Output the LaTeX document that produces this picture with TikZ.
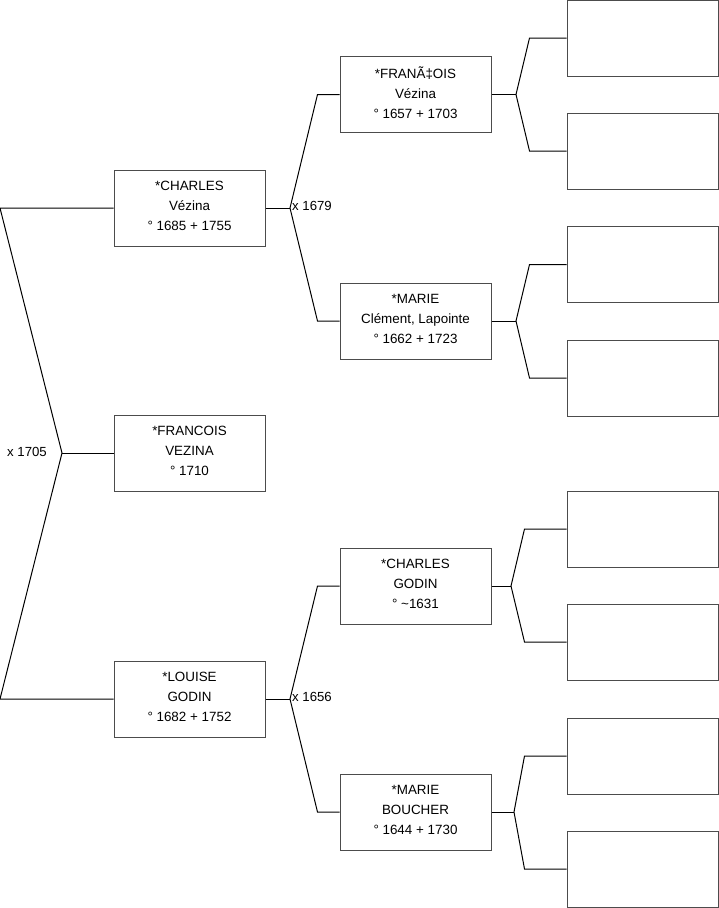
\documentclass[tikz,border=0pt]{standalone}
\usepackage{fontspec}
\setmainfont{Liberation Sans}
\begin{document}
\begin{tikzpicture}[x=1pt,y=-1pt,
  person/.style={draw=black!70, line width=1pt, minimum width=151pt, minimum height=76pt,
    inner sep=0pt, align=center, font=\fontsize{13.4}{20}\selectfont,
    execute at end node={\rule[-4pt]{0pt}{4pt}}},
  conn/.style={draw=black, line width=1pt},
  lbl/.style={font=\fontsize{13.2}{14}\selectfont, inner sep=0pt}]
\useasboundingbox (0,0) rectangle (719,908);
% generation 1
\node[person] (c1) at (189.5,208) {*CHARLES\\Vézina\\° 1685 + 1755};
\node[person] (c2) at (189.5,453) {*FRANCOIS\\VEZINA\\° 1710};
\node[person] (c3) at (189.5,699) {*LOUISE\\GODIN\\° 1682 + 1752};
% generation 2
\node[person] (p1) at (415.5,94.5) {*FRANÃ‡OIS\\Vézina\\° 1657 + 1703};
\node[person] (p2) at (415.5,321) {*MARIE\\Clément, Lapointe\\° 1662 + 1723};
\node[person] (p3) at (415.5,586) {*CHARLES\\GODIN\\° \textasciitilde1631};
\node[person] (p4) at (415.5,812) {*MARIE\\BOUCHER\\° 1644 + 1730};
% generation 3
\node[person] (g1) at (642.5,38) {};
\node[person] (g2) at (642.5,151) {};
\node[person] (g3) at (642.5,264.5) {};
\node[person] (g4) at (642.5,378) {};
\node[person] (g5) at (642.5,529) {};
\node[person] (g6) at (642.5,642) {};
\node[person] (g7) at (642.5,756) {};
\node[person] (g8) at (642.5,869) {};
% root bracket
\coordinate (r0) at (0,208);
\coordinate (m1) at (62,453);
\coordinate (r1) at (0,699);
\draw[conn] (c1.west) -- (r0) -- (m1) -- (r1) -- (c3.west);
\draw[conn] (m1) -- (c2.west);
\node[lbl, anchor=east] (l1) at (47,452) {x 1705};
% charles -> parents
\coordinate (j1) at (290,208);
\draw[conn] (c1.east) -- (j1);
\draw[conn] (p1.west) -- ++(-22,0) -- (j1) -- ([xshift=-22pt]p2.west) -- (p2.west);
\node[lbl, anchor=west] (l2) at (292,206) {x 1679};
% louise -> parents
\coordinate (j2) at (290,699);
\draw[conn] (c3.east) -- (j2);
\draw[conn] (p3.west) -- ++(-22,0) -- (j2) -- ([xshift=-22pt]p4.west) -- (p4.west);
\node[lbl, anchor=west] (l3) at (292,697) {x 1656};
% generation 2 -> 3
\coordinate (k1) at (516,94.5);
\draw[conn] (p1.east) -- (k1);
\draw[conn] (g1.west) -- ++(-37,0) -- (k1) -- ([xshift=-37pt]g2.west) -- (g2.west);
\coordinate (k2) at (516,321);
\draw[conn] (p2.east) -- (k2);
\draw[conn] (g3.west) -- ++(-37,0) -- (k2) -- ([xshift=-37pt]g4.west) -- (g4.west);
\coordinate (k3) at (511,586);
\draw[conn] (p3.east) -- (k3);
\draw[conn] (g5.west) -- ++(-42,0) -- (k3) -- ([xshift=-42pt]g6.west) -- (g6.west);
\coordinate (k4) at (514,812);
\draw[conn] (p4.east) -- (k4);
\draw[conn] (g7.west) -- ++(-42,0) -- (k4) -- ([xshift=-42pt]g8.west) -- (g8.west);
\end{tikzpicture}
\end{document}
